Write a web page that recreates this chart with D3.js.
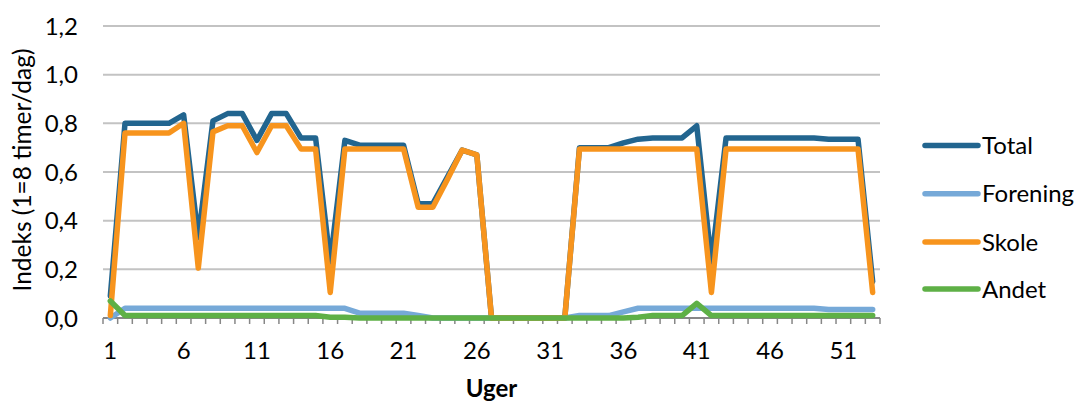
<!DOCTYPE html>
<html>
<head>
<meta charset="utf-8">
<script src="https://cdnjs.cloudflare.com/ajax/libs/d3/7.8.5/d3.min.js"></script>
<style>
  body { margin: 0; background: #fff; }
  svg text { font-family: Lato, "Open Sans", sans-serif; fill: #000; }
</style>
</head>
<body>
<svg id="chart" width="1080" height="404"></svg>
<script>
// weeks 1..53
var weeks = d3.range(1, 54);
var seriesNames = ['Total', 'Forening', 'Skole', 'Andet'];
var seriesColors = ['#22658f', '#76a9d8', '#f7941d', '#5eb046'];
var yTicks = [0, 0.2, 0.4, 0.6, 0.8, 1.0, 1.2];
var xTickLabels = [1, 6, 11, 16, 21, 26, 31, 36, 41, 46, 51];

var total = [0.09, 0.80, 0.80, 0.80, 0.80, 0.835, 0.33, 0.81, 0.84, 0.84,
             0.73, 0.84, 0.84, 0.74, 0.74, 0.23, 0.73, 0.71, 0.71, 0.71,
             0.71, 0.47, 0.47, 0.58, 0.69, 0.67, 0, 0, 0, 0,
             0, 0, 0.70, 0.70, 0.70, 0.72, 0.735, 0.74, 0.74, 0.74,
             0.79, 0.23, 0.74, 0.74, 0.74, 0.74, 0.74, 0.74, 0.74, 0.735,
             0.735, 0.735, 0.15];
var forening = [0, 0.04, 0.04, 0.04, 0.04, 0.04, 0.04, 0.04, 0.04, 0.04,
                0.04, 0.04, 0.04, 0.04, 0.04, 0.04, 0.04, 0.02, 0.02, 0.02,
                0.02, 0.01, 0, 0, 0, 0, 0, 0, 0, 0,
                0, 0, 0.01, 0.01, 0.01, 0.025, 0.04, 0.04, 0.04, 0.04,
                0.04, 0.04, 0.04, 0.04, 0.04, 0.04, 0.04, 0.04, 0.04, 0.035,
                0.035, 0.035, 0.035];
var skole = [0.01, 0.76, 0.76, 0.76, 0.76, 0.80, 0.205, 0.765, 0.79, 0.79,
             0.68, 0.79, 0.79, 0.695, 0.695, 0.105, 0.695, 0.695, 0.695, 0.695,
             0.695, 0.455, 0.455, 0.57, 0.69, 0.67, 0, 0, 0, 0,
             0, 0, 0.695, 0.695, 0.695, 0.695, 0.695, 0.695, 0.695, 0.695,
             0.695, 0.105, 0.695, 0.695, 0.695, 0.695, 0.695, 0.695, 0.695, 0.695,
             0.695, 0.695, 0.105];
var andet = [0.07, 0.01, 0.01, 0.01, 0.01, 0.01, 0.01, 0.01, 0.01, 0.01,
             0.01, 0.01, 0.01, 0.01, 0.01, 0.003, 0.003, 0, 0, 0,
             0, 0, 0, 0, 0, 0, 0, 0, 0, 0,
             0, 0, 0, 0, 0, 0, 0.003, 0.01, 0.01, 0.01,
             0.06, 0.01, 0.01, 0.01, 0.01, 0.01, 0.01, 0.01, 0.01, 0.01,
             0.01, 0.01, 0.01];
var seriesValues = [total, forening, skole, andet];

var svg = d3.select('#chart');
var plotLeft = 103, plotRight = 880, plotTop = 26, plotBottom = 318;

var x = d3.scaleBand().domain(weeks).range([plotLeft, plotRight]).padding(0);
var y = d3.scaleLinear().domain([0, 1.2]).range([plotBottom, plotTop]);
var fmt = function(v){ return d3.format('.1f')(v).replace('.', ','); };

// gridlines
svg.append('g').selectAll('line').data(yTicks.slice(1)).enter().append('line')
  .attr('x1', plotLeft).attr('x2', plotRight)
  .attr('y1', function(d){ return y(d); }).attr('y2', function(d){ return y(d); })
  .attr('stroke', '#c3c3c3').attr('stroke-width', 2);

// y tick labels
svg.append('g').selectAll('text').data(yTicks).enter().append('text')
  .attr('x', 78).attr('y', function(d){ return y(d); })
  .attr('dy', '0.36em').attr('text-anchor', 'end')
  .style('font-size', '24px')
  .text(fmt);

// x axis line + ticks between categories
var xAxis = svg.append('g');
xAxis.append('line')
  .attr('x1', plotLeft).attr('x2', plotRight).attr('y1', plotBottom).attr('y2', plotBottom)
  .attr('stroke', '#878787').attr('stroke-width', 2);
var bounds = weeks.map(function(w){ return x(w); }).concat([plotRight]);
xAxis.selectAll('line.tick').data(bounds).enter().append('line')
  .attr('class', 'tick')
  .attr('x1', function(d){ return d; }).attr('x2', function(d){ return d; })
  .attr('y1', plotBottom).attr('y2', plotBottom + 6)
  .attr('stroke', '#878787').attr('stroke-width', 1.5);
xAxis.selectAll('text').data(xTickLabels).enter().append('text')
  .attr('x', function(d){ return x(d) + x.bandwidth() / 2; })
  .attr('y', 359).attr('text-anchor', 'middle')
  .style('font-size', '24px')
  .text(function(d){ return d; });

// axis titles
svg.append('text')
  .attr('x', (plotLeft + plotRight) / 2).attr('y', 397).attr('text-anchor', 'middle')
  .style('font-size', '24px').style('font-weight', 'bold')
  .text('Uger');
svg.append('text')
  .attr('transform', 'translate(31,170) rotate(-90)')
  .attr('text-anchor', 'middle')
  .style('font-size', '24.5px')
  .text('Indeks (1=8 timer/dag)');

// series lines
var line = d3.line()
  .x(function(d, i){ return x(weeks[i]) + x.bandwidth() / 2; })
  .y(function(d){ return y(d); });

seriesValues.forEach(function(vals, i){
  svg.append('path')
    .datum(vals)
    .attr('d', line)
    .attr('fill', 'none')
    .attr('stroke', seriesColors[i])
    .attr('stroke-width', 5.5)
    .attr('stroke-linejoin', 'round')
    .attr('stroke-linecap', 'round');
});

// legend
var legendY = [145.5, 193.8, 242, 289];
var legend = svg.append('g');
seriesNames.forEach(function(name, i){
  legend.append('line')
    .attr('x1', 925).attr('x2', 978)
    .attr('y1', legendY[i]).attr('y2', legendY[i])
    .attr('stroke', seriesColors[i]).attr('stroke-width', 5.5)
    .attr('stroke-linecap', 'round');
  legend.append('text')
    .attr('x', 982).attr('y', legendY[i]).attr('dy', '0.36em')
    .style('font-size', '24px')
    .text(name);
});
</script>
</body>
</html>
